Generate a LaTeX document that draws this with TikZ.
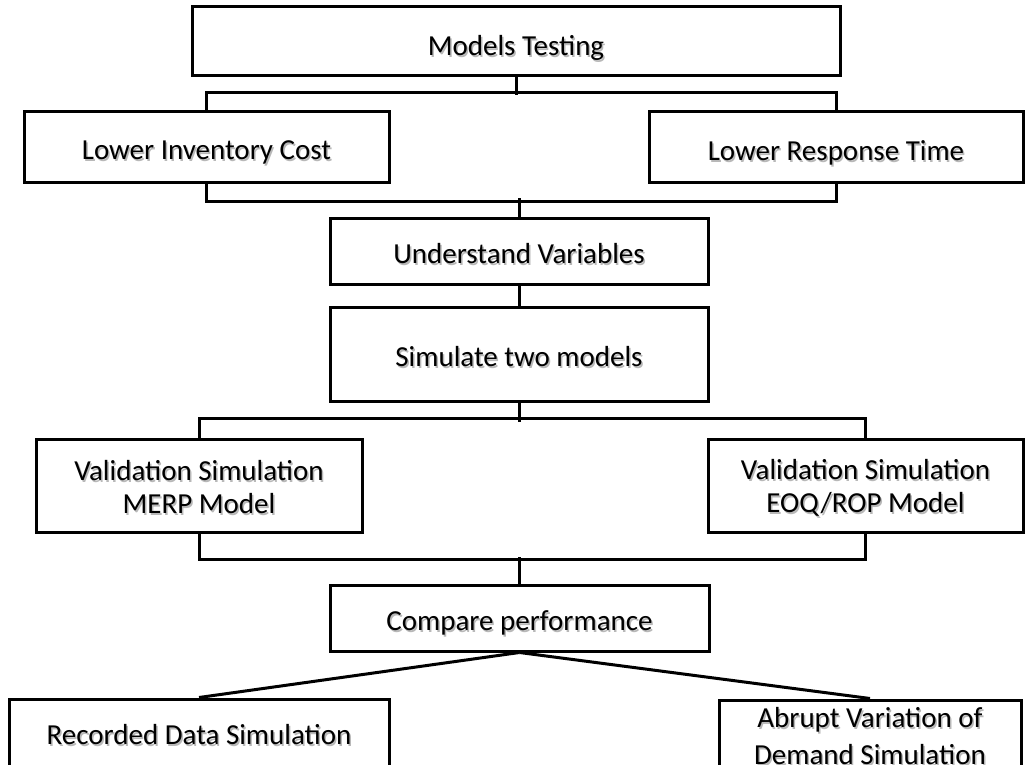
\documentclass[tikz,border=0pt]{standalone}
\usepackage{fontspec}
\setmainfont{Carlito}
\usetikzlibrary{calc}
\begin{document}
\begin{tikzpicture}[x=1pt,y=-1pt,
  box/.style={draw=black, line width=3pt, fill=white, inner sep=0pt},
  label text/.style={inner sep=0pt, align=center,
    font=\fontsize{29}{33}\selectfont},
  shade/.style={label text, text=black!28},
  link/.style={draw=black, line width=3pt}]
\useasboundingbox (0,0) rectangle (1026,765);
\clip (0,0) rectangle (1026,765);

% box with a soft text shadow: name, centre, width, height, text drop, text
\newcommand\flowbox[6]{%
  \node[box, minimum width=#3, minimum height=#4] (#1) at (#2) {};
  \node[shade] at ($(#2)+(1.5,#5+2)$) {#6};
  \node[label text] at ($(#2)+(0,#5)$) {#6};
}

\flowbox{top}{516,41.5}{648pt}{69pt}{6}{Models Testing}
\flowbox{lic}{206.5,147.5}{365pt}{71pt}{5}{Lower Inventory Cost}
\flowbox{lrt}{836,147.5}{374pt}{71pt}{5}{Lower Response Time}
\flowbox{uv}{519,251}{378pt}{66pt}{3}{Understand Variables}
\flowbox{stm}{519,354}{378pt}{94pt}{3}{Simulate two models}
\flowbox{merp}{199,485.5}{326pt}{93pt}{2}{Validation Simulation\\MERP Model}
\flowbox{eoq}{865.5,485.5}{315pt}{93pt}{2}{Validation Simulation\\EOQ/ROP Model}
\flowbox{cmp}{519.5,618}{379pt}{66pt}{5}{Compare performance}
\flowbox{rec}{199,735}{380pt}{72pt}{0}{Recorded Data Simulation}
\flowbox{abr}{870,746.5}{302pt}{93pt}{-10}{Abrupt Variation of\\[4pt]Demand Simulation}

% connectors
\draw[link] (top.south) -- ++(0,18);
\draw[link] (lic.north) -- ++(0,-18) -| (lrt.north);
\draw[link] (lic.south) -- ++(0,17) -| (lrt.south);
\draw[link] (uv.north) -- ++(0,-18);
\draw[link] (uv.south) -- (stm.north);
\draw[link] (stm.south) -- ++(0,19);
\draw[link] (merp.north) -- ++(0,-19) -| (eoq.north);
\draw[link] (merp.south) -- ++(0,26) -| (eoq.south);
\draw[link] (cmp.north) -- ++(0,-27);
\draw[link] (cmp.south) -- (rec.north);
\draw[link] (cmp.south) -- (abr.north);
\end{tikzpicture}
\end{document}
